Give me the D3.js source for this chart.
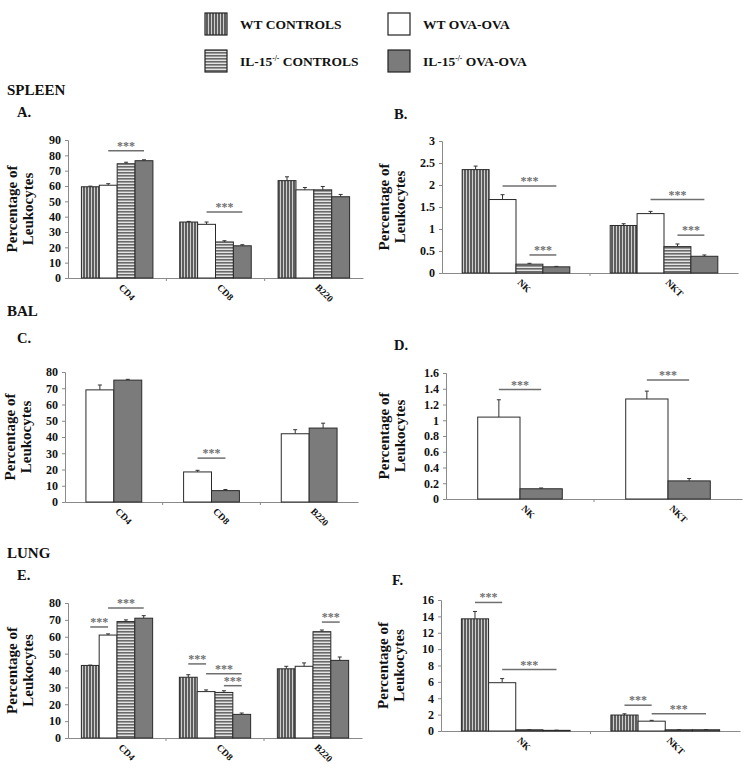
<!DOCTYPE html>
<html><head><meta charset="utf-8">
<script src="https://cdn.jsdelivr.net/npm/d3@7"></script>
<style>body{margin:0;background:#fff}svg{display:block}text{font-family:"Liberation Serif","Times New Roman",serif;font-weight:bold}</style>
</head><body>
<script>
// ---------- DATA ----------
const seriesNames = ["WT CONTROLS", "WT OVA-OVA", "IL-15 CONTROLS", "IL-15 OVA-OVA"];
const subsetCats = ["CD4", "CD8", "B220"];
const nkCats = ["NK", "NKT"];

// A. Spleen subsets (per category: WT ctrl, WT OVA, IL15 ctrl, IL15 OVA)
const spleenSubsetVals = [[59.5, 60.5, 74.5, 76.5], [36.5, 35, 23.5, 21], [63.5, 57.5, 57.5, 53]];
const spleenSubsetErr = [[0.4, 1, 1, 0.6], [0.4, 1.5, 0.8, 0.7], [2.5, 1.5, 2.2, 1.5]];
const spleenSubsetSig = [[0, 1, 3, 83], [1, 1, 3, 43]];
// B. Spleen NK
const spleenNkVals = [[2.35, 1.67, 0.2, 0.14], [1.08, 1.35, 0.6, 0.38]];
const spleenNkErr = [[0.08, 0.11, 0.02, 0.01], [0.04, 0.05, 0.06, 0.03]];
const spleenNkSig = [[0, 1, 3, 1.98], [0, 2, 3, 0.41], [1, 1, 3, 1.67], [1, 2, 3, 0.86]];
// C. BAL subsets (WT OVA, IL15 OVA)
const balSubsetVals = [[69, 75], [18.5, 7], [42, 45.5]];
const balSubsetErr = [[3, 0.5], [1, 0.7], [2.5, 3]];
const balSubsetSig = [[1, 0, 1, 27]];
// D. BAL NK
const balNkVals = [[1.04, 0.13], [1.27, 0.23]];
const balNkErr = [[0.22, 0.01], [0.1, 0.03]];
const balNkSig = [[0, 0, 1, 1.39], [1, 0, 1, 1.51]];
// E. Lung subsets
const lungSubsetVals = [[43, 61, 69, 71], [36, 27.5, 27, 14], [41, 42.5, 63, 46]];
const lungSubsetErr = [[0.2, 0.7, 1, 1.5], [1.5, 1, 1, 0.8], [1.5, 2, 1, 2]];
const lungSubsetSig = [[0, 0, 1, 65.8], [0, 1, 3, 77], [1, 0, 1, 43.9], [1, 1, 3, 38.1], [1, 2, 3, 31], [2, 2, 3, 68.7]];
// F. Lung NK
const lungNkVals = [[13.7, 5.9, 0.15, 0.08], [1.95, 1.2, 0.15, 0.15]];
const lungNkErr = [[0.9, 0.5, 0.02, 0.02], [0.15, 0.1, 0.02, 0.02]];
const lungNkSig = [[0, 0, 1, 15.7], [0, 1, 3, 7.5], [1, 0, 1, 3.15], [1, 1, 3, 2.1]];

const allSeries = [0, 1, 2, 3];
const ovaSeries = [1, 3];

// ---------- LAYOUT ----------
const W = 751, H = 777;
const svg = d3.select("body").append("svg").attr("width", W).attr("height", H);
const defs = svg.append("defs");

const pv = defs.append("pattern").attr("id", "pv").attr("patternUnits", "userSpaceOnUse").attr("width", 3).attr("height", 3);
pv.append("rect").attr("width", 3).attr("height", 3).attr("fill", "#5e5e5e");
pv.append("rect").attr("x", 1).attr("width", 1).attr("height", 3).attr("fill", "#cfcfcf");
const ph = defs.append("pattern").attr("id", "ph").attr("patternUnits", "userSpaceOnUse").attr("width", 3).attr("height", 3);
ph.append("rect").attr("width", 3).attr("height", 3).attr("fill", "#e4e4e4");
ph.append("rect").attr("y", 1).attr("width", 3).attr("height", 1.6).attr("fill", "#6a6a6a");
const fills = ["url(#pv)", "#ffffff", "url(#ph)", "#7b7b7b"];

// ---------- LEGEND ----------
const legendPos = [[205, 13], [388, 13], [205, 50], [388, 50]];
allSeries.forEach(i => {
  const [lx, ly] = legendPos[i];
  svg.append("rect").attr("x", lx).attr("y", ly).attr("width", 22).attr("height", 22)
    .attr("fill", fills[i]).attr("stroke", "#222").attr("stroke-width", 1.2);
  const t = svg.append("text").attr("x", lx + 35).attr("y", ly + 16).attr("font-size", 13.5).attr("fill", "#111");
  const nm = seriesNames[i];
  if (nm.startsWith("IL-15")) {
    t.append("tspan").text("IL-15");
    t.append("tspan").attr("font-size", 7.5).attr("dy", -5).text("-/-");
    t.append("tspan").attr("dy", 5).text(nm.slice(5));
  } else t.text(nm);
});

// ---------- SECTION TITLES ----------
const sections = [["SPLEEN", 7, 95], ["BAL", 7, 316], ["LUNG", 7, 558]];
sections.forEach(([s, x, y]) => svg.append("text").attr("x", x).attr("y", y).attr("font-size", 15).attr("fill", "#111").text(s));

// ---------- PANELS ----------
const panels = [
  {letter: "A.", lx: 17, ly: 117, cats: subsetCats, ser: allSeries, vals: spleenSubsetVals, err: spleenSubsetErr, sig: spleenSubsetSig,
   x0: 68, x1: 363, yT: 140, yB: 278, max: 90, step: 10, fmt: d => d, tx: 17},
  {letter: "B.", lx: 394, ly: 119, cats: nkCats, ser: allSeries, vals: spleenNkVals, err: spleenNkErr, sig: spleenNkSig,
   x0: 442, x1: 738, yT: 141, yB: 273, max: 3, step: 0.5, fmt: d => d, tx: 389},
  {letter: "C.", lx: 17, ly: 343, cats: subsetCats, ser: ovaSeries, vals: balSubsetVals, err: balSubsetErr, sig: balSubsetSig,
   x0: 65, x1: 358, yT: 372, yB: 502, max: 80, step: 10, fmt: d => d, tx: 15},
  {letter: "D.", lx: 394, ly: 350, cats: nkCats, ser: ovaSeries, vals: balNkVals, err: balNkErr, sig: balNkSig,
   x0: 446, x1: 742, yT: 373, yB: 499, max: 1.6, step: 0.2, fmt: d => +d.toFixed(1), tx: 389},
  {letter: "E.", lx: 17, ly: 580, cats: subsetCats, ser: allSeries, vals: lungSubsetVals, err: lungSubsetErr, sig: lungSubsetSig,
   x0: 68, x1: 362, yT: 603, yB: 738, max: 80, step: 10, fmt: d => d, tx: 17},
  {letter: "F.", lx: 392, ly: 585, cats: nkCats, ser: allSeries, vals: lungNkVals, err: lungNkErr, sig: lungNkSig,
   x0: 441, x1: 740, yT: 600, yB: 731, max: 16, step: 2, fmt: d => d, tx: 388}
];

panels.forEach(p => {
  const g = svg.append("g");
  g.append("text").attr("x", p.lx).attr("y", p.ly).attr("font-size", 14.5).attr("fill", "#111").text(p.letter);

  const x = d3.scaleBand().domain(p.cats).range([p.x0, p.x1]);
  const cw = x.bandwidth();
  const gw = cw * p.ser.length / (p.ser.length + 1.5);
  const xs = d3.scaleBand().domain(d3.range(p.ser.length)).range([-gw / 2, gw / 2]);
  const y = d3.scaleLinear().domain([0, p.max]).range([p.yB, p.yT]);
  const ticks = d3.range(0, p.max + p.step / 2, p.step);

  // y axis
  const ya = g.append("g").attr("transform", `translate(${p.x0},0)`)
    .call(d3.axisLeft(y).tickValues(ticks).tickSize(3).tickPadding(4).tickFormat(p.fmt));
  ya.select(".domain").attr("stroke", "#8a8a8a");
  ya.selectAll(".tick line").attr("stroke", "#8a8a8a");
  ya.selectAll(".tick text").attr("font-size", 12).attr("fill", "#111")
    .style("font-family", '"Liberation Serif",serif').style("font-weight", "bold");

  // x axis
  const xa = g.append("g").attr("transform", `translate(0,${p.yB})`)
    .call(d3.axisBottom(x).tickSize(0).tickFormat(""));
  xa.select(".domain").attr("stroke", "#8a8a8a");
  p.cats.forEach((c, i) => {
    const bx = p.x0 + cw * (i + 1);
    if (i < p.cats.length - 1) g.append("line").attr("x1", bx).attr("x2", bx).attr("y1", p.yB).attr("y2", p.yB + 3).attr("stroke", "#8a8a8a");
    const cx = x(c) + cw / 2;
    g.append("text").attr("transform", `translate(${cx + 1},${p.yB + 10}) rotate(45)`)
      .attr("font-size", 9.5).attr("fill", "#111").text(c);
  });

  // y title
  const ty = (p.yT + p.yB) / 2;
  g.append("text").attr("transform", `translate(${p.tx},${ty}) rotate(-90)`).attr("text-anchor", "middle")
    .attr("font-size", 15).attr("fill", "#111").text("Percentage of");
  g.append("text").attr("transform", `translate(${p.tx + 16},${ty}) rotate(-90)`).attr("text-anchor", "middle")
    .attr("font-size", 15).attr("fill", "#111").text("Leukocytes");

  // bars
  p.cats.forEach((c, ci) => {
    const cx = x(c) + cw / 2;
    p.ser.forEach((s, si) => {
      const v = p.vals[ci][si], e = p.err[ci][si];
      const bx = cx + xs(si), bw = xs.bandwidth();
      const ex = bx + bw / 2;
      g.append("line").attr("x1", ex).attr("x2", ex).attr("y1", y(v)).attr("y2", y(v + e)).attr("stroke", "#333").attr("stroke-width", 1);
      g.append("line").attr("x1", ex - 2).attr("x2", ex + 2).attr("y1", y(v + e)).attr("y2", y(v + e)).attr("stroke", "#333").attr("stroke-width", 1);
      g.append("rect").attr("x", bx).attr("y", y(v)).attr("width", bw).attr("height", p.yB - y(v))
        .attr("fill", fills[s]).attr("stroke", "#2a2a2a").attr("stroke-width", 1);
    });
  });

  // significance
  p.sig.forEach(([ci, a, b, v]) => {
    const cx = x(p.cats[ci]) + cw / 2;
    const xa1 = cx + xs(a) + xs.bandwidth() / 2, xb1 = cx + xs(b) + xs.bandwidth() / 2;
    g.append("line").attr("x1", xa1).attr("x2", xb1).attr("y1", y(v)).attr("y2", y(v))
      .attr("stroke", "#6f6f6f").attr("stroke-width", 1.5);
    g.append("text").attr("x", (xa1 + xb1) / 2).attr("y", y(v) - 1).attr("text-anchor", "middle")
      .attr("font-size", 12).attr("fill", "#6f6f6f").attr("opacity", 0.99).text("***");
  });
});
</script>
</body></html>
